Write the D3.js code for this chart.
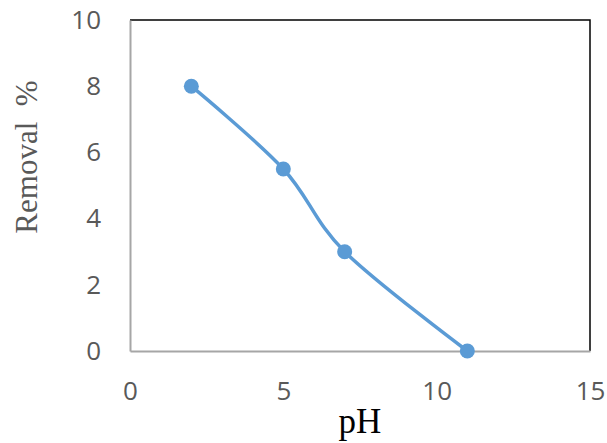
<!DOCTYPE html>
<html>
<head>
<meta charset="utf-8">
<script src="https://cdn.jsdelivr.net/npm/d3@7"></script>
<style>
  body { margin: 0; background: #fff; }
  svg { display: block; }
</style>
</head>
<body>
<svg class="grafico" width="607" height="443"></svg>
<script>
// data
const phValues = [2, 5, 7, 11];
const removalValues = [8, 5.5, 3, 0];
const xTicks = [0, 5, 10, 15];
const yTicks = [0, 2, 4, 6, 8, 10];

const data = phValues.map((p, i) => ({ x: p, y: removalValues[i] }));

const svg = d3.select(".grafico");
const width = 607;
const height = 443;
const margin = { top: 20, right: 17, bottom: 92, left: 130 };

// scales
const x = d3.scaleLinear()
  .domain([0, 15])
  .range([margin.left, width - margin.right]);

const y = d3.scaleLinear()
  .domain([0, 10])
  .range([height - margin.bottom, margin.top]);

// top and right border (black)
svg.append("path")
  .attr("d", `M${x(0)},${y(10)}H${x(15)}V${y(0)}`)
  .attr("fill", "none")
  .attr("stroke", "#000")
  .attr("stroke-width", 1.5);

// x axis
const gx = svg.append("g")
  .attr("transform", `translate(0, ${y(0)})`)
  .call(d3.axisBottom(x).tickValues(xTicks).tickSize(0).tickPadding(31));
gx.select(".domain").attr("stroke", "#a6a6a6").attr("stroke-width", 2);
gx.selectAll("text")
  .attr("fill", "#595959")
  .style("font-family", "'Open Sans', sans-serif")
  .style("font-size", "26px");

// y axis
const gy = svg.append("g")
  .attr("transform", `translate(${x(0)}, 0)`)
  .call(d3.axisLeft(y).tickValues(yTicks).tickSize(0).tickPadding(29));
gy.select(".domain").attr("stroke", "#a6a6a6").attr("stroke-width", 2);
gy.selectAll("text")
  .attr("fill", "#595959")
  .style("font-family", "'Open Sans', sans-serif")
  .style("font-size", "26px");

// line
const line = d3.line()
  .x(d => x(d.x))
  .y(d => y(d.y))
  .curve(d3.curveCatmullRom.alpha(0));

svg.append("path")
  .datum(data)
  .attr("fill", "none")
  .attr("stroke", "#5b9bd5")
  .attr("stroke-width", 3.5)
  .attr("d", line);

svg.selectAll("circle")
  .data(data)
  .join("circle")
  .attr("cx", d => x(d.x))
  .attr("cy", d => y(d.y))
  .attr("r", 7.5)
  .attr("fill", "#5b9bd5");

// axis titles
svg.append("text")
  .attr("x", 360)
  .attr("y", 433)
  .attr("text-anchor", "middle")
  .style("font-family", "'Liberation Serif', 'Times New Roman', serif")
  .style("font-size", "35px")
  .attr("fill", "#000")
  .text("pH");

svg.append("text")
  .attr("transform", "translate(37, 157) rotate(-90)")
  .attr("text-anchor", "middle")
  .style("font-family", "'Liberation Serif', 'Times New Roman', serif")
  .style("font-size", "31px")
  .style("white-space", "pre")
  .attr("fill", "#595959")
  .text("Removal  %");
</script>
</body>
</html>
